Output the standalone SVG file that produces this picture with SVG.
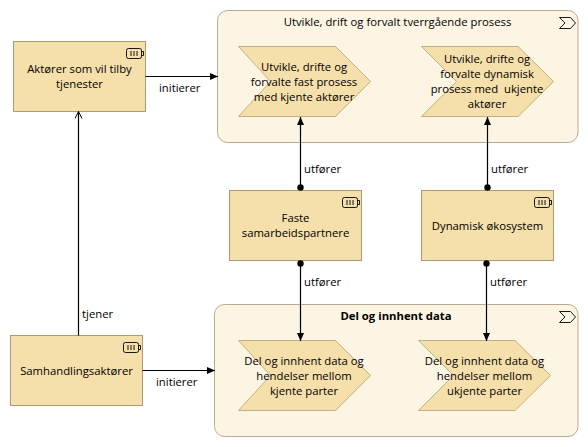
<svg xmlns="http://www.w3.org/2000/svg" width="588" height="447" viewBox="0 0 588 447">
<style>
text{font-family:"Open Sans","Noto Sans","Liberation Sans",sans-serif;font-size:11.3px;fill:#000;text-anchor:middle}
.lb{fill:#000;text-anchor:start}
.grp{fill:#fdf5e3;stroke:#b9ab91;stroke-width:1}
.n{fill:#f5dfaa;stroke:#ac9b72;stroke-width:1}
.ch{fill:#f5dfaa;stroke:#c2b080;stroke-width:1}
.ic{fill:none;stroke:#000;stroke-width:.9}
.c{fill:none;stroke:#000;stroke-width:1.2}
</style>
<defs>
<marker id="a" markerWidth="9" markerHeight="9" refX="8" refY="3.500" orient="auto" markerUnits="userSpaceOnUse"><path d="M0 0L8 3.500L0 7z" fill="#000"/></marker>
<marker id="o" markerWidth="8" markerHeight="8" refX="7" refY="3.500" orient="auto" markerUnits="userSpaceOnUse"><path d="M0 0L7 3.500L0 7" fill="none" stroke="#000"/></marker>
<g id="bat"><rect x="0" y="0" width="15" height="10" rx="2" class="ic"/><path d="M15.500 3h1.500v4h-1.500M4.500 2.500v5M7.500 2.500v5M10.500 2.500v5" class="ic"/></g>
<g id="sym"><path d="M0 0H11L16 5.500L11 11H0L5.500 5.500Z" class="ic"/></g>
</defs>
<g id="group-utvikle"><rect class="grp" x="217.500" y="10.500" width="360.500" height="132" rx="10"/><use href="#sym" x="559.500" y="17.500"/><text x="397.500" y="26">Utvikle, drift og forvalt tverrgående prosess</text></g>
<g id="group-del"><rect class="grp" x="214.500" y="304.500" width="363.500" height="132" rx="10"/><use href="#sym" x="559.500" y="311.500"/><text x="396" y="320" font-weight="bold">Del og innhent data</text></g>
<g id="node-aktorer"><rect class="n" x="13.500" y="41.500" width="132" height="70"/><use href="#bat" x="126.500" y="48.500"/><text x="79.500" y="73">Aktører som vil tilby</text><text x="79.500" y="88">tjenester</text></g>
<g id="node-faste"><rect class="n" x="229.500" y="190.500" width="132" height="70"/><use href="#bat" x="342.500" y="197.500"/><text x="295.500" y="222">Faste</text><text x="295.500" y="237">samarbeidspartnere</text></g>
<g id="node-dynamisk"><rect class="n" x="421.500" y="190.500" width="132" height="70"/><use href="#bat" x="534.500" y="197.500"/><text x="487.500" y="230">Dynamisk økosystem</text></g>
<g id="node-samhandling"><rect class="n" x="10.500" y="335.500" width="132" height="70"/><use href="#bat" x="123.500" y="342.500"/><text x="76.500" y="375">Samhandlingsaktører</text></g>
<g id="proc-fast"><path class="ch" d="M238.500 46.500H335.500L370.500 81.500L335.500 116.500H238.500L270.500 81.500Z"/><text x="304" y="71">Utvikle, drifte og</text><text x="304" y="86">forvalte fast prosess</text><text x="304" y="101">med kjente aktører</text></g>
<g id="proc-dyn"><path class="ch" d="M421.500 46.500H518L553.500 81.500L518 116.500H421.500L456.500 81.500Z"/><text x="487" y="63">Utvikle, drifte og</text><text x="487" y="78">forvalte dynamisk</text><text x="487" y="93" xml:space="preserve">prosess med  ukjente</text><text x="487" y="108">aktører</text></g>
<g id="proc-del-kjente"><path class="ch" d="M238.500 340.500H335.500L370.500 375.500L335.500 410.500H238.500L270.500 375.500Z"/><text x="304" y="365">Del og innhent data og</text><text x="304" y="380">hendelser mellom</text><text x="304" y="395">kjente parter</text></g>
<g id="proc-del-ukjente"><path class="ch" d="M418.500 340.500H515L550.500 375.500L515 410.500H418.500L453.500 375.500Z"/><text x="484.500" y="365">Del og innhent data og</text><text x="484.500" y="380">hendelser mellom</text><text x="484.500" y="395">ukjente parter</text></g>
<g id="connectors">
<path class="c" d="M145.500 76.500H218" marker-end="url(#a)"/>
<path class="c" d="M142.500 370.500H215" marker-end="url(#a)"/>
<path class="c" d="M78.500 335.500V111.500" marker-end="url(#o)"/>
<path class="c" d="M300.500 187.500V117" marker-end="url(#a)"/><circle cx="300.500" cy="187.500" r="3.200"/>
<path class="c" d="M487.500 187.500V117" marker-end="url(#a)"/><circle cx="487.500" cy="187.500" r="3.200"/>
<path class="c" d="M300.500 263.500V341" marker-end="url(#a)"/><circle cx="300.500" cy="263.500" r="3.200"/>
<path class="c" d="M486.500 263.500V341" marker-end="url(#a)"/><circle cx="486.500" cy="263.500" r="3.200"/>
<text class="lb" x="159" y="92">initierer</text>
<text class="lb" x="156" y="386">initierer</text>
<text class="lb" x="82" y="318">tjener</text>
<text class="lb" x="304" y="173">utfører</text>
<text class="lb" x="491" y="173">utfører</text>
<text class="lb" x="304" y="286">utfører</text>
<text class="lb" x="490" y="286">utfører</text>
</g>
</svg>
